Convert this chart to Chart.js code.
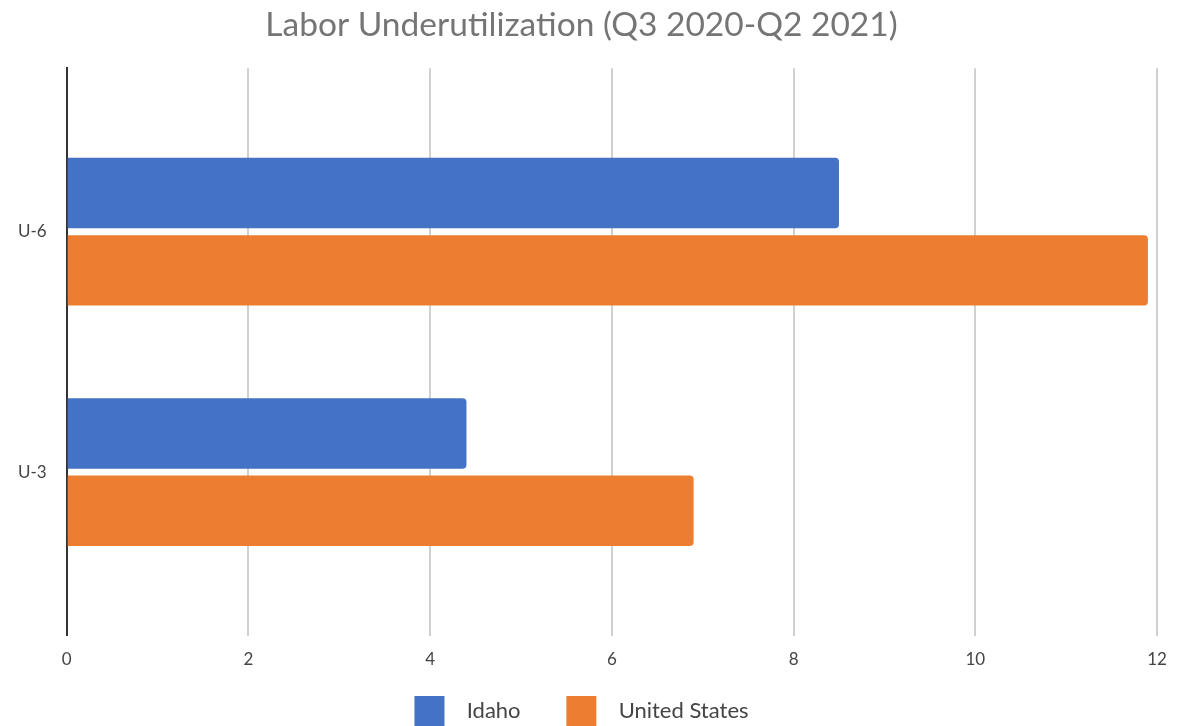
<!DOCTYPE html>
<html lang="en">
<head>
  <meta charset="UTF-8" />
  <title>Labor Underutilization</title>
  <script src="https://cdn.jsdelivr.net/npm/chart.js"></script>
  <style>
    html, body { margin: 0; padding: 0; background: #fff; overflow: hidden; }
    .wrap { position: relative; width: 1182px; height: 736px; }
  </style>
</head>
<body>

<div class="wrap">
  <canvas id="chart"></canvas>
</div>

<script>
  // Chart data
  const categories = ['U-6', 'U-3'];
  const seriesNames = ['Idaho', 'United States'];
  const idaho = [8.5, 4.4];
  const unitedStates = [11.9, 6.9];
  const xTicks = [0, 2, 4, 6, 8, 10, 12];

  // bars sit on a linear index scale (1, 2, ...) so the band can be padded
  function toPoints(values) {
    return values.map((v, i) => ({ x: v, y: i + 1 }));
  }

  const font = "Lato, 'Open Sans', sans-serif";

  new Chart(document.getElementById('chart'), {
    type: 'bar',
    data: {
      datasets: [
        {
          label: seriesNames[0],
          data: toPoints(idaho),
          backgroundColor: '#4472C4',
          borderRadius: 4,
          borderSkipped: 'start',
          categoryPercentage: 0.644,
          barPercentage: 0.91
        },
        {
          label: seriesNames[1],
          data: toPoints(unitedStates),
          backgroundColor: '#ED7D31',
          borderRadius: 4,
          borderSkipped: 'start',
          categoryPercentage: 0.644,
          barPercentage: 0.91
        }
      ]
    },
    options: {
      indexAxis: 'y',
      responsive: true,
      maintainAspectRatio: false,
      animation: false,
      layout: { padding: { left: 6, right: 25, top: 0, bottom: 0 } },
      plugins: {
        title: {
          display: true,
          text: 'Labor Underutilization (Q3 2020-Q2 2021)',
          color: '#757575',
          font: { family: font, size: 33.5, weight: 'normal' },
          padding: { top: 5, bottom: 23 }
        },
        legend: {
          position: 'bottom',
          labels: {
            color: '#444',
            font: { family: font, size: 22 },
            boxWidth: 30,
            boxHeight: 30,
            padding: 12,
            // wider gap between swatch and name, and between the two items
            generateLabels: (chart) => {
              const items = Chart.defaults.plugins.legend.labels.generateLabels(chart);
              items.forEach((item, i) => {
                item.text = '  ' + item.text + (i < items.length - 1 ? '      ' : '');
              });
              return items;
            }
          }
        },
        tooltip: { enabled: false }
      },
      scales: {
        x: {
          type: 'linear',
          min: 0,
          max: 12,
          afterBuildTicks: (axis) => { axis.ticks = xTicks.map(v => ({ value: v })); },
          grid: { color: '#d0d0d0', lineWidth: 2, drawTicks: false },
          border: { display: false },
          ticks: { color: '#444', font: { family: font, size: 17 }, padding: 14 }
        },
        y: {
          type: 'linear',
          reverse: true,
          offset: false,
          min: 0.32,
          max: 2.68,
          afterBuildTicks: (axis) => { axis.ticks = categories.map((c, i) => ({ value: i + 1 })); },
          grid: { display: false },
          border: { display: true, color: '#333', width: 2 },
          ticks: {
            color: '#444',
            font: { family: font, size: 17 },
            padding: 12,
            callback: (value) => categories[value - 1]
          }
        }
      }
    }
  });
</script>

</body>
</html>
